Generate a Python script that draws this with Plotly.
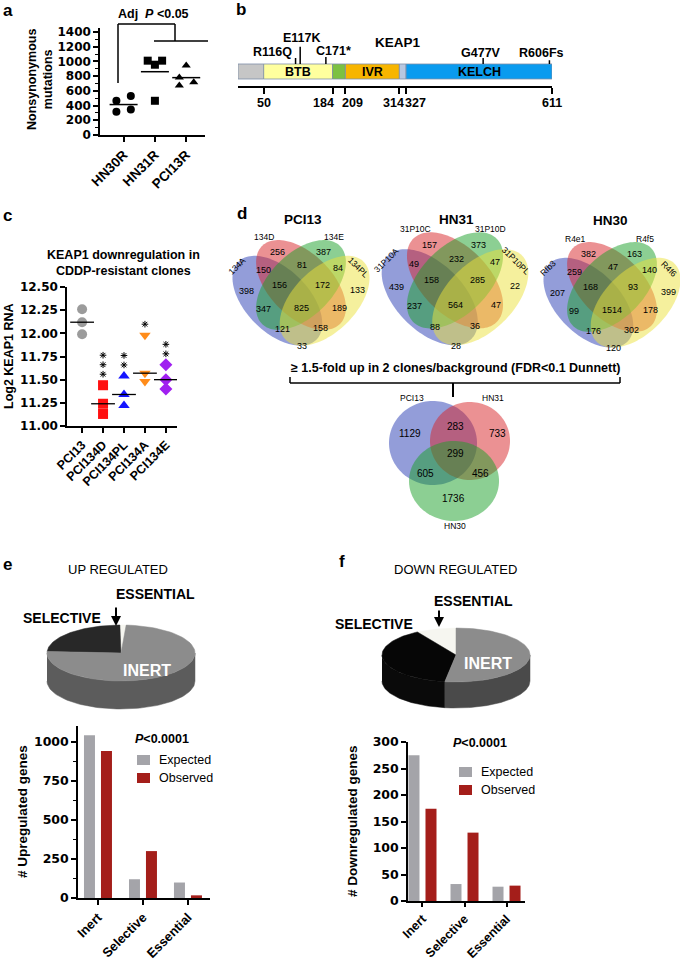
import numpy as np
import plotly.graph_objects as go

W, H = 680, 962
FONT = "Liberation Sans"
NUMFONT = "DejaVu Sans"

# ---------------- data ----------------
a_groups = ["HN30R", "HN31R", "PCI13R"]
a_hn30r = [465, 530, 315, 345]
a_hn31r = [1010, 955, 1010, 465]
a_pci13r = [945, 782, 718, 673]

b_domain_start = [0, 50, 184, 209, 314, 327]
b_domain_end = [50, 184, 209, 314, 327, 611]
b_domain_names = ["", "BTB", "", "IVR", "", "KELCH"]
b_axis_ticks = [50, 184, 209, 314, 327, 611]
b_mut_pos = [116, 117, 171, 477, 606]
b_mut_labels = ["R116Q", "E117K", "C171*", "G477V", "R606Fs"]

c_groups = ["PCI13", "PCI134D", "PCI134PL", "PCI134A", "PCI134E"]
c_pci13 = [12.26, 12.12, 11.99]
c_134d = [11.44, 11.24, 11.13]
c_134pl = [11.54, 11.34, 11.22]
c_134a = [11.98, 11.57, 11.48]
c_134e = [11.66, 11.50, 11.40]
c_stars = [0, 3, 2, 1, 2]

venn_titles = ["PCI13", "HN31", "HN30"]
venn_pci13_sets = ["134A", "134D", "134E", "134PL"]
venn_hn31_sets = ["31P10A", "31P10C", "31P10D", "31P10PL"]
venn_hn30_sets = ["Rfb3", "R4e1", "R4f5", "R4f6"]
venn_pci13_counts = [398, 256, 387, 133, 150, 81, 84, 156, 172, 347, 825, 189, 121, 158, 33]
venn_hn31_counts = [439, 157, 373, 22, 49, 232, 47, 158, 285, 237, 564, 47, 88, 36, 28]
venn_hn30_counts = [207, 382, 163, 399, 259, 47, 140, 168, 93, 99, 1514, 178, 176, 302, 120]

v3_sets = ["PCI13", "HN31", "HN30"]
v3_counts = [1129, 283, 733, 299, 605, 456, 1736]

pie_cats = ["ESSENTIAL", "SELECTIVE", "INERT"]
bar_cats = ["Inert", "Selective", "Essential"]
e_expected = [1041, 120, 99]
e_observed = [940, 300, 17]
f_expected = [275, 32, 27]
f_observed = [174, 129, 29]

# ---------------- helpers ----------------
def dx(p0, p1):
    return [p0 / W, p1 / W]

def dy(p0, p1):
    return [1 - p1 / H, 1 - p0 / H]

annotations = []
shapes = []

def ann(x, y, text, size=12, color="black", xanchor="center", yanchor="middle",
        angle=0, xref="x6", yref="y6", family=FONT, **kw):
    annotations.append(dict(x=x, y=y, xref=xref, yref=yref, text=text, showarrow=False,
                            font=dict(family=family, size=size, color=color),
                            xanchor=xanchor, yanchor=yanchor, textangle=angle, **kw))

def line(x0, y0, x1, y1, width=1.5, color="black", xref="x6", yref="y6"):
    shapes.append(dict(type="line", x0=x0, y0=y0, x1=x1, y1=y1, xref=xref, yref=yref,
                       line=dict(color=color, width=width)))

def poly_path(xs, ys):
    pts = " L ".join(f"{x:.2f},{y:.2f}" for x, y in zip(xs, ys))
    return "M " + pts + " Z"

def ellipse(cx, cy, a, b, ang_deg, n=120):
    t = np.linspace(0, 2 * np.pi, n)
    g = np.radians(ang_deg)
    x = cx + a * np.cos(t) * np.cos(g) - b * np.sin(t) * np.sin(g)
    y = cy + a * np.cos(t) * np.sin(g) + b * np.sin(t) * np.cos(g)
    return x, y

def numfont(size=12):
    return dict(family=NUMFONT, size=size, color="black", weight="bold")

def catfont(size=13):
    return dict(family=FONT, size=size, color="black", weight="bold")

def axstyle(**kw):
    d = dict(showline=True, linecolor="black", linewidth=1.5, ticks="outside", ticklen=5,
             tickwidth=1.5, tickcolor="black", showgrid=False, zeroline=False,
             automargin=False, tickfont=numfont(12), fixedrange=True)
    d.update(kw)
    return d

fig = go.Figure()

# ---------------- panel a ----------------
a_sets = [a_hn30r, a_hn31r, a_pci13r]
a_symbols = ["circle", "square", "triangle-up"]
a_jitter = [[-0.23, 0.23, -0.23, 0.23], [-0.23, 0, 0.23, 0], [0, -0.22, 0.24, -0.22]]
for i, (vals, sym, jit) in enumerate(zip(a_sets, a_symbols, a_jitter)):
    fig.add_trace(go.Scatter(x=[i + j for j in jit], y=vals, mode="markers",
                             marker=dict(symbol=sym, size=8, color="black"),
                             xaxis="x", yaxis="y", showlegend=False, hoverinfo="skip"))
    fig.add_trace(go.Scatter(x=[i], y=[np.mean(vals)], mode="markers",
                             marker=dict(symbol="line-ew", size=20,
                                         line=dict(width=1.5, color="black")),
                             xaxis="x", yaxis="y", showlegend=False, hoverinfo="skip"))

ann(40, 80, "<b>Nonsynonymous<br>mutations</b>", size=12.5, angle=-90)
ann(1, 10, "<b>a</b>", size=17, xanchor="left")
ann(153, 14, "<b>Adj  <i>P</i> &lt;0.05</b>", size=12.5)
line(118, 83, 118, 24)
line(118, 24, 175, 24)
line(175, 24, 175, 41)
line(154, 41, 208, 41)

# ---------------- panel b ----------------
b_colors = ["#C6C6C6", "#FFFF9E", "#7CC142", "#F7B500", "#B8C7E0", "#0A9BEF"]
for s, e, col in zip(b_domain_start, b_domain_end, b_colors):
    fig.add_trace(go.Bar(x=[e - s], base=[s], y=[0.259], width=0.268, orientation="h",
                         marker=dict(color=col, line=dict(color="#7F8FA8", width=0.8)),
                         xaxis="x2", yaxis="y2", showlegend=False, hoverinfo="skip"))
for s, e, nm in zip(b_domain_start, b_domain_end, b_domain_names):
    if nm:
        ann((s + e) / 2, 72, f"<b>{nm}</b>", size=12.5, xref="x2")
b_mut_top = [0.50, 0.70, 0.52, 0.50, 0.46]
b_mut_nudge = [-4, 4, 0, 0, 0]
for p, t, nd in zip(b_mut_pos, b_mut_top, b_mut_nudge):
    fig.add_trace(go.Scatter(x=[p + nd, p + nd], y=[0.393, t], mode="lines",
                             line=dict(color="black", width=1.5),
                             xaxis="x2", yaxis="y2", showlegend=False, hoverinfo="skip"))
b_lab_xy = [(294, 52, "right"), (302, 38, "center"), (333, 51, "center"),
            (481, 53, "center"), (541, 53, "center")]
for (x, y, anc), lab in zip(b_lab_xy, b_mut_labels):
    ann(x, y, f"<b>{lab}</b>", size=12.5, xanchor=anc)
b_tick_shift = [0, -9, 7, -6, 9, 0]
for t, sh in zip(b_axis_ticks, b_tick_shift):
    ann(t, 103, f"<b>{t}</b>", size=12.5, xref="x2", xshift=sh)
ann(398, 42, "<b>KEAP1</b>", size=13.5)
ann(234, 9, "<b>b</b>", size=17, xanchor="left")

# ---------------- panel c ----------------
c_sets = [c_pci13, c_134d, c_134pl, c_134a, c_134e]
c_symbols = ["circle", "square", "triangle-up", "triangle-down", "diamond"]
c_colors = ["#9B9B9B", "#FF1010", "#1515FF", "#FF8C1A", "#A020F0"]
c_unit = 1.5 / 139.0   # data units per pixel on the c y axis
for i, (vals, sym, col) in enumerate(zip(c_sets, c_symbols, c_colors)):
    fig.add_trace(go.Scatter(x=[i] * len(vals), y=vals, mode="markers",
                             marker=dict(symbol=sym, size=10, color=col),
                             xaxis="x3", yaxis="y3", showlegend=False, hoverinfo="skip"))
    fig.add_trace(go.Scatter(x=[i], y=[np.median(vals)], mode="markers",
                             marker=dict(symbol="line-ew", size=17,
                                         line=dict(width=1.3, color="black")),
                             xaxis="x3", yaxis="y3", showlegend=False, hoverinfo="skip"))
    if c_stars[i]:
        ys = [max(vals) + c_unit * (11 + 9.5 * k) for k in range(c_stars[i])]
        fig.add_trace(go.Scatter(x=[i] * c_stars[i], y=ys, mode="markers",
                                 marker=dict(symbol="asterisk-open", size=5.5, color="black",
                                             line=dict(width=1, color="black")),
                                 xaxis="x3", yaxis="y3", showlegend=False, hoverinfo="skip"))
ann(123, 263, "<b>KEAP1 downregulation in<br>CDDP-resistant clones</b>", size=12.5)
ann(9, 356, "<b>Log2 KEAP1 RNA</b>", size=12.5, angle=-90)
ann(1, 215, "<b>c</b>", size=17, xanchor="left")

# ---------------- panel d ----------------
venn_cols = ["rgba(40,60,180,0.5)", "rgba(215,35,40,0.5)",
             "rgba(25,160,40,0.5)", "rgba(235,225,60,0.5)"]
region_off = [(-55, -17), (-24, -56), (22, -56), (56, -18), (-38, -38), (1, -43), (37, -40),
              (-22, -23), (21, -23), (-38, 1), (0, 0), (38, 0), (-19, 21), (19, 20), (1, 38)]
setlab_off = [(-64, -42), (-37, -71), (33, -71), (57, -41)]
setlab_ang = [-45, 0, 0, 45]
venn_centres = [(301, 308, 1.0), (455, 305, 1.07), (612, 310, 1.0)]
venn_title_xy = [(303, 219), (456, 219), (610, 220)]
venn_sets_all = [venn_pci13_sets, venn_hn31_sets, venn_hn30_sets]
venn_counts_all = [venn_pci13_counts, venn_hn31_counts, venn_hn30_counts]
for (lx, ly, k), sets, counts, title, (tx, ty) in zip(venn_centres, venn_sets_all,
                                                      venn_counts_all, venn_titles,
                                                      venn_title_xy):
    s = 157.5 * k
    axc, ayc = lx, ly - 12 * k
    cen = [(axc - 0.15 * s, ayc + 0.03 * s, 45), (axc, ayc - 0.07 * s, 45),
           (axc, ayc - 0.07 * s, -45), (axc + 0.15 * s, ayc + 0.03 * s, -45)]
    for (cx, cy, g), col in zip(cen, venn_cols):
        xs, ys = ellipse(cx, cy, 0.35 * s, 0.2 * s, g)
        shapes.append(dict(type="path", path=poly_path(xs, ys), xref="x6", yref="y6",
                           fillcolor=col, line=dict(width=0), layer="below"))
    for (ox, oy), c in zip(region_off, counts):
        ann(lx + ox * k, ly + oy * k, str(c), size=9)
    for (ox, oy), nm, g in zip(setlab_off, sets, setlab_ang):
        ann(lx + ox * k, ly + oy * k, nm, size=8.5, angle=g)
    ann(tx, ty, f"<b>{title}</b>", size=13.5)
ann(235, 213, "<b>d</b>", size=17, xanchor="left")
ann(455, 368, "<b>≥ 1.5-fold up in 2 clones/background (FDR&lt;0.1 Dunnett)</b>", size=12.5)
line(290, 383, 620, 383)
line(290, 377, 290, 383)
line(620, 377, 620, 383)
line(453, 383, 453, 397, width=2)

v3_geom = [(433, 443, 44, 42), (470, 441, 40, 39), (454, 481, 45, 40)]
v3_cols = ["rgba(40,60,180,0.5)", "rgba(215,35,40,0.5)", "rgba(25,160,40,0.5)"]
for (cx, cy, rx, ry), col in zip(v3_geom, v3_cols):
    xs, ys = ellipse(cx, cy, rx, ry, 0)
    shapes.append(dict(type="path", path=poly_path(xs, ys), xref="x6", yref="y6",
                       fillcolor=col, line=dict(width=0), layer="below"))
v3_lab_xy = [(412, 398), (493, 398), (455, 526)]
for (x, y), nm in zip(v3_lab_xy, v3_sets):
    ann(x, y, nm, size=8.5)
v3_reg_xy = [(410, 433), (455, 426), (497, 433), (455, 453), (425, 473), (480, 473), (453, 498)]
for (x, y), c in zip(v3_reg_xy, v3_counts):
    ann(x, y, str(c), size=10)

# ---------------- panels e/f pies ----------------
def draw_pie(cx, cy, rx, ry, depth, values, start, top_cols, side_cols):
    total = float(sum(values))
    angs = [start]
    for v in values:
        angs.append(angs[-1] + v / total * 360.0)
    for i in range(len(values)):
        a0, a1 = angs[i], angs[i + 1]
        for kk in range(-1, 3):
            t0, t1 = max(a0, 180 + 360 * kk), min(a1, 360 + 360 * kk)
            if t1 <= t0:
                continue
            ts = np.radians(np.linspace(t0, t1, 80))
            xt = cx + rx * np.cos(ts)
            yt = cy - ry * np.sin(ts)
            xs = np.concatenate([xt, xt[::-1]])
            ys = np.concatenate([yt, (yt + depth)[::-1]])
            fig.add_trace(go.Scatter(x=xs, y=ys, fill="toself", mode="lines",
                                     line=dict(width=0.5, color=side_cols[i]),
                                     fillcolor=side_cols[i], xaxis="x6", yaxis="y6",
                                     showlegend=False, hoverinfo="skip"))
    for i in range(len(values)):
        ts = np.radians(np.linspace(angs[i], angs[i + 1], 80))
        xs = np.concatenate([[cx], cx + rx * np.cos(ts), [cx]])
        ys = np.concatenate([[cy], cy - ry * np.sin(ts), [cy]])
        fig.add_trace(go.Scatter(x=xs, y=ys, fill="toself", mode="lines",
                                 line=dict(width=0.5, color=top_cols[i]),
                                 fillcolor=top_cols[i], xaxis="x6", yaxis="y6",
                                 showlegend=False, hoverinfo="skip"))

e_pie_vals = e_observed[::-1]
f_pie_vals = f_observed[::-1]
draw_pie(121, 653, 74, 28, 28, e_pie_vals, 86,
         ["#F6F6F0", "#282828", "#8C8C8C"], ["#D8D8D8", "#1E1E1E", "#5C5C5C"])
draw_pie(456, 655, 74, 27, 26, f_pie_vals, 90,
         ["#F6F6F0", "#060606", "#8C8C8C"], ["#D8D8D8", "#0A0A0A", "#4A4A4A"])

ann(118, 569, "UP REGULATED", size=13)
ann(455, 569, "DOWN REGULATED", size=13)
ann(155, 594, "<b>ESSENTIAL</b>", size=14)
ann(473, 601, "<b>ESSENTIAL</b>", size=14)
ann(62, 618, "<b>SELECTIVE</b>", size=14)
ann(374, 624, "<b>SELECTIVE</b>", size=14)
ann(147, 670, "<b>INERT</b>", size=16, color="white")
ann(488, 663, "<b>INERT</b>", size=16, color="white")
for (x, y0, y1) in [(116, 606, 626), (439, 609, 627)]:
    annotations.append(dict(x=x, y=y1, ax=x, ay=y0, xref="x6", yref="y6", axref="x6",
                            ayref="y6", text="", showarrow=True, arrowhead=2,
                            arrowsize=1, arrowwidth=2, arrowcolor="black"))
ann(1, 564, "<b>e</b>", size=17, xanchor="left")
ann(337, 561, "<b>f</b>", size=17, xanchor="left")

# ---------------- panels e/f bars ----------------
exp_col, obs_col = "#A4A4A9", "#A41E1A"
for (xa, ya, expv, obsv, unit) in [("x4", "y4", e_expected, e_observed, 45.0),
                                   ("x5", "y5", f_expected, f_observed, 42.0)]:
    fig.add_trace(go.Bar(x=[0, 1, 2], y=expv, width=11 / unit, offset=-14 / unit,
                         marker=dict(color=exp_col, line=dict(width=0)),
                         xaxis=xa, yaxis=ya, showlegend=False, hoverinfo="skip"))
    fig.add_trace(go.Bar(x=[0, 1, 2], y=obsv, width=11 / unit, offset=3 / unit,
                         marker=dict(color=obs_col, line=dict(width=0)),
                         xaxis=xa, yaxis=ya, showlegend=False, hoverinfo="skip"))

ann(22, 812, "<b># Upregulated genes</b>", size=13.5, angle=-90)
ann(352, 821, "<b># Downregulated genes</b>", size=13.5, angle=-90)
ann(162, 739, "<b><i>P</i>&lt;0.0001</b>", size=12.5)
ann(480, 743, "<b><i>P</i>&lt;0.0001</b>", size=12.5)
for (bx, by, names) in [(137, 755, ["Expected", "Observed"]), (459, 767, ["Expected", "Observed"])]:
    for j, (nm, col) in enumerate(zip(names, [exp_col, obs_col])):
        shapes.append(dict(type="rect", x0=bx, x1=bx + 13, y0=by + 18 * j, y1=by + 18 * j + 10,
                           xref="x6", yref="y6", fillcolor=col, line=dict(width=0)))
        ann(bx + 20, by + 18 * j + 5, nm, size=12.5, xanchor="left")

# ---------------- layout ----------------
fig.update_layout(
    template="none",
    width=W, height=H, margin=dict(l=0, r=0, t=0, b=0, pad=0, autoexpand=False),
    paper_bgcolor="white", plot_bgcolor="rgba(0,0,0,0)",
    font=dict(family=FONT, color="black"), barmode="overlay",
    xaxis=axstyle(domain=dx(100, 205), range=[-0.754, 2.6], tickvals=[0, 1, 2],
                  ticktext=a_groups, tickangle=-45, anchor="y", tickfont=catfont(13.5)),
    yaxis=axstyle(domain=dy(28, 135), range=[0, 1454], tickvals=list(range(0, 1401, 200)),
                  anchor="x", tickfont=numfont(12),
                  minor=dict(dtick=100, ticks="outside", ticklen=3,
                             tickcolor="black", tickwidth=1)),
    xaxis2=axstyle(domain=dx(238, 552), range=[0, 611], tickvals=b_axis_ticks, anchor="y2",
                   ticklen=6, showticklabels=False),
    yaxis2=dict(domain=dy(30, 86), range=[0, 1], visible=False, anchor="x2",
                fixedrange=True, automargin=False),
    xaxis3=axstyle(domain=dx(67, 177), range=[-0.72, 4.53], tickvals=[0, 1, 2, 3, 4],
                   ticktext=c_groups, tickangle=-45, anchor="y3", tickfont=catfont(12.5)),
    yaxis3=axstyle(domain=dy(287, 426), range=[11, 12.5], dtick=0.25, tickformat=".2f",
                   anchor="x3", tickfont=numfont(12)),
    xaxis4=axstyle(domain=dx(78, 210), range=[-0.444, 2.49], tickvals=[0, 1, 2],
                   ticktext=bar_cats, tickangle=-45, anchor="y4", tickfont=catfont(13)),
    yaxis4=axstyle(domain=dy(726, 898), range=[0, 1100], tickvals=[0, 250, 500, 750, 1000],
                   anchor="x4", tickfont=numfont(12.5),
                   minor=dict(dtick=125, ticks="outside", ticklen=3, tickcolor="black",
                              tickwidth=1)),
    xaxis5=axstyle(domain=dx(408, 525), range=[-0.345, 2.44], tickvals=[0, 1, 2],
                   ticktext=bar_cats, tickangle=-45, anchor="y5", tickfont=catfont(12.5),
                   ticklen=4),
    yaxis5=axstyle(domain=dy(742, 901), range=[0, 300], dtick=50, anchor="x5",
                   tickfont=numfont(12.5)),
    xaxis6=dict(domain=[0, 1], range=[0, W], visible=False, anchor="y6", fixedrange=True,
                automargin=False),
    yaxis6=dict(domain=[0, 1], range=[H, 0], visible=False, anchor="x6", fixedrange=True,
                automargin=False),
    annotations=annotations, shapes=shapes,
)

fig.write_html("out.html", config=dict(displayModeBar=False),
               post_script="document.body.style.margin='0px';"
                           "document.body.style.overflow='hidden';")
